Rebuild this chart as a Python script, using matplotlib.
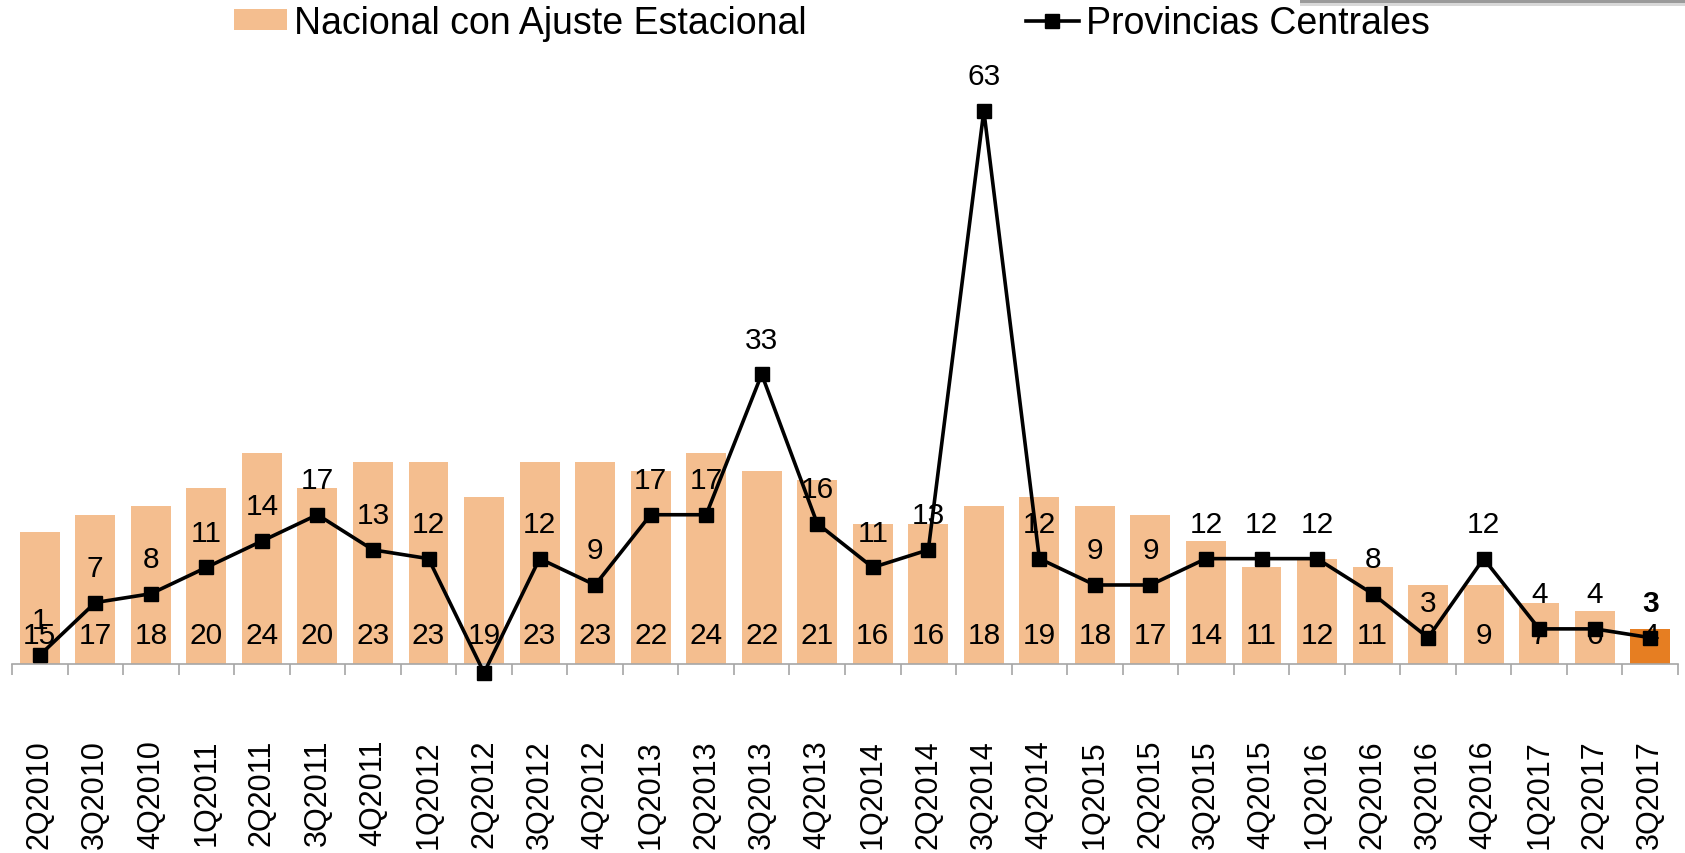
import numpy as np
import matplotlib.pyplot as plt
from matplotlib.patches import Rectangle

# Arial look-alike
plt.rcParams['font.family'] = ['Liberation Sans', 'DejaVu Sans']

quarters = ['2Q2010', '3Q2010', '4Q2010', '1Q2011', '2Q2011', '3Q2011', '4Q2011',
            '1Q2012', '2Q2012', '3Q2012', '4Q2012', '1Q2013', '2Q2013', '3Q2013',
            '4Q2013', '1Q2014', '2Q2014', '3Q2014', '4Q2014', '1Q2015', '2Q2015',
            '3Q2015', '4Q2015', '1Q2016', '2Q2016', '3Q2016', '4Q2016', '1Q2017',
            '2Q2017', '3Q2017']
nacional = [15, 17, 18, 20, 24, 20, 23, 23, 19, 23, 23, 22, 24, 22, 21, 16, 16,
            18, 19, 18, 17, 14, 11, 12, 11, 9, 9, 7, 6, 4]
centrales = [1, 7, 8, 11, 14, 17, 13, 12, -1, 12, 9, 17, 17, 33, 16, 11, 13,
             63, 12, 9, 9, 12, 12, 12, 8, 3, 12, 4, 4, 3]

bar_color = '#F4BE8F'
last_color = '#E67E22'
axis_grey = '#A6A6A6'

W, H = 1685, 854
fig = plt.figure(figsize=(W / 100, H / 100), dpi=100)
# axes in pixel terms: x 12..1678, baseline at y=665, 8.78 px per unit
ymax = 68
ax = fig.add_axes([12 / W, 1 - 665 / H, (1678 - 12) / W, ymax * 8.78 / H])

x = np.arange(len(quarters))
colors = [bar_color] * (len(x) - 1) + [last_color]
bars = ax.bar(x, nacional, width=0.72, color=colors, zorder=1,
              label='Nacional con Ajuste Estacional')
ax.plot(x, centrales, color='black', lw=2.6, marker='s', markersize=10,
        clip_on=False, zorder=3, label='Provincias Centrales')

# bar labels near the base of each bar
for xi, v in zip(x, nacional):
    ax.annotate(str(v), (xi, 0), xytext=(0, 21), textcoords='offset points',
                ha='center', va='center', fontsize=21.5, zorder=2)
# line labels above each point
for i, (xi, v) in enumerate(zip(x, centrales)):
    ax.annotate(str(v), (xi, v), xytext=(0, 25), textcoords='offset points',
                ha='center', va='center', fontsize=21.5, zorder=4,
                fontweight='bold' if i == len(x) - 1 else 'normal')

ax.set_xlim(-0.5, len(x) - 0.5)
ax.set_ylim(0, ymax)
for s in ['top', 'right', 'left']:
    ax.spines[s].set_visible(False)
ax.spines['bottom'].set_color(axis_grey)
ax.spines['bottom'].set_linewidth(1.2)
ax.set_yticks([])

ax.set_xticks(x)
ax.set_xticklabels(quarters, rotation=90, fontsize=22)
ax.tick_params(axis='x', which='major', length=0, pad=54)
ax.set_xticks(np.arange(-0.5, len(x)), minor=True)
ax.tick_params(axis='x', which='minor', length=8, width=1.2, color=axis_grey)

fig.legend(handles=[bars, ax.lines[0]], loc='center left',
           bbox_to_anchor=(234 / W, 1 - 24 / H), ncol=2, frameon=False,
           fontsize=27, borderpad=0, borderaxespad=0, handlelength=1.4,
           handleheight=0.5, handletextpad=0.2, columnspacing=5.85,
           numpoints=1)

# grey box edge peeking in at the top right corner
fig.patches.append(Rectangle((1300 / W, 1 - 4 / H), 385 / W, 4 / H,
                             transform=fig.transFigure, color='#9A9A9A',
                             lw=0, zorder=5))
fig.patches.append(Rectangle((1300 / W, 1 - 7 / H), 385 / W, 3 / H,
                             transform=fig.transFigure, color='#D8D8D8',
                             lw=0, zorder=5))

fig.savefig('out.png', dpi=100)
